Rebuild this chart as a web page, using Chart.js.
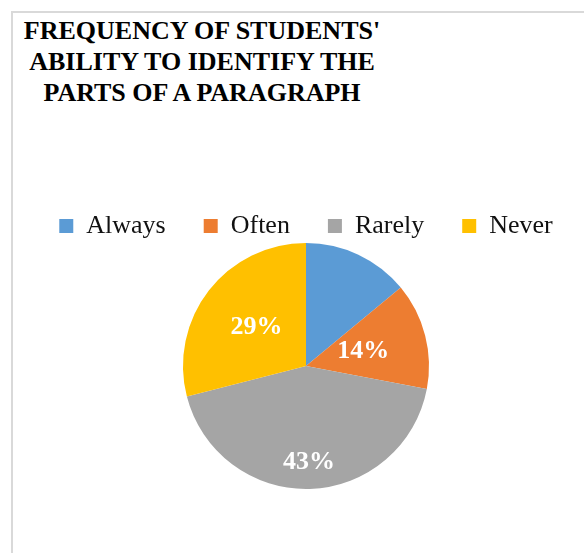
<!DOCTYPE html>
<html>
<head>
<meta charset="utf-8">
<script src="https://cdn.jsdelivr.net/npm/chart.js@4/dist/chart.umd.min.js"></script>
<style>
	body { margin: 0; background: #fff; }
	#wrap { position: relative; width: 584px; height: 553px; overflow: hidden; }
	#frame { position: absolute; left: 11px; top: 11px; width: 700px; height: 700px;
		border-left: 2px solid #d9d9d9; border-top: 2px solid #d9d9d9; }
	#title { position: absolute; left: 0; top: 15px; width: 404px; text-align: center;
		font: bold 26px "Liberation Serif", "Times New Roman", serif; line-height: 31px; color: #000; }
	/* canvas shifted right so the pie and legend centre on x=306 */
	#pie-chartcanvas { position: absolute; left: 14px; top: 0; }
</style>
</head>
<body>
<div id="wrap">
	<div id="frame"></div>
	<div id="title">FREQUENCY OF STUDENTS'<br>ABILITY TO IDENTIFY THE<br>PARTS OF A PARAGRAPH</div>
	<canvas id="pie-chartcanvas" width="584" height="553"></canvas>
</div>
<script>
// chart data
var categories = ["Always", "Often", "Rarely", "Never"];
var percentValues = [14, 14, 43, 29];
var sliceColors = ["#5B9BD5", "#ED7D31", "#A5A5A5", "#FFC000"];
// where each percent label sits, as a share of the radius (null = no label)
var labelRadius = [null, 0.48, 0.78, 0.51];

// draws the white percent labels inside the slices
var percentLabels = {
	id : "percentLabels",
	afterDatasetsDraw : function(chart) {
		var ctx = chart.ctx;
		var meta = chart.getDatasetMeta(0);
		var data = chart.data.datasets[0].data;
		var total = data.reduce(function(a, b) { return a + b; }, 0);
		ctx.save();
		ctx.fillStyle = "#fff";
		ctx.font = "bold 26px 'Liberation Serif', 'Times New Roman', serif";
		ctx.textAlign = "center";
		ctx.textBaseline = "middle";
		meta.data.forEach(function(arc, i) {
			if (labelRadius[i] === null) return;
			var p = arc.getProps(["x", "y", "startAngle", "endAngle", "outerRadius"], true);
			var mid = (p.startAngle + p.endAngle) / 2;
			var r = p.outerRadius * labelRadius[i];
			var text = Math.round(data[i] / total * 100) + "%";
			ctx.fillText(text, p.x + Math.cos(mid) * r, p.y + Math.sin(mid) * r);
		});
		ctx.restore();
	}
};

var pieCtx = document.getElementById("pie-chartcanvas");
var pieChart = new Chart(pieCtx, {
	type : "pie",
	data : {
		labels : categories,
		datasets : [
			{
				data : percentValues,
				backgroundColor : sliceColors,
				borderWidth : 0,
				clip : false
			}
		]
	},
	options : {
		responsive : false,
		animation : false,
		radius : 123,
		layout : {
			padding : { top : 175, left : 0, right : 0, bottom : 70 }
		},
		plugins : {
			title : { display : false },
			tooltip : { enabled : false },
			legend : {
				display : true,
				position : "top",
				labels : {
					boxWidth : 14,
					boxHeight : 14,
					padding : 38,
					color : "#111",
					font : { family : "'Liberation Serif', 'Times New Roman', serif", size : 26 }
				}
			}
		}
	},
	plugins : [percentLabels]
});
</script>
</body>
</html>
